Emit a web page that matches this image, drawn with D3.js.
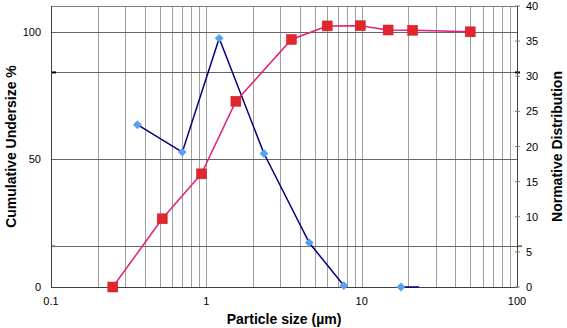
<!DOCTYPE html>
<html>
<head>
<meta charset="utf-8">
<script src="https://cdn.jsdelivr.net/npm/d3@7"></script>
<style>
  body { margin: 0; background: #fff; }
  svg { display: block; font-family: "Liberation Sans", Arial, sans-serif; }
</style>
</head>
<body>
<div id="chart"></div>
<script>
// cumulative undersize (left axis, %)
var cumSize = [0.25, 0.52, 0.93, 1.55, 3.53, 6.0, 9.8, 14.8, 21.3, 50];
var cumValue = [0, 26.7, 44.3, 72.7, 96.9, 102.2, 102.3, 100.6, 100.5, 99.9];

// normative distribution (right axis), null = gap in the line
var normSize = [0.36, 0.70, 1.21, 2.35, 4.6, 7.67, null, 17.9, 23.4];
var normValue = [23.1, 19.2, 35.4, 19.0, 6.3, 0.2, null, 0, 0];

var xTicks = [0.1, 1, 10, 100];
var leftTicks = [0, 50, 100];
var rightTicks = [0, 5, 10, 15, 20, 25, 30, 35, 40];
var extraGrid = [84, 16]; // odd extra horizontal lines (left-axis units)

var W = 567, H = 328;
var m = {left: 51, right: 50, top: 6, bottom: 41};
var iw = W - m.left - m.right, ih = H - m.top - m.bottom;

var svg = d3.select("#chart").append("svg").attr("width", W).attr("height", H);
var g = svg.append("g").attr("transform", "translate(" + m.left + "," + m.top + ")");

var x = d3.scaleLog().domain([0.1, 100]).range([0, iw]);
var yL = d3.scaleLinear().domain([0, 110]).range([ih, 0]);
var yR = d3.scaleLinear().domain([0, 40]).range([ih, 0]);

// vertical grid on every log step
var vgrid = [];
[0.1, 1, 10].forEach(function(d) {
    for (var k = 1; k < 10; k++) vgrid.push(d * k);
});
g.selectAll(".vg").data(vgrid.filter(function(d) { return d > 0.1; }))
    .enter().append("line")
    .attr("x1", function(d) { return Math.round(x(d)) + 0.5; })
    .attr("x2", function(d) { return Math.round(x(d)) + 0.5; })
    .attr("y1", 0).attr("y2", ih)
    .attr("stroke", "#a0a0a0").attr("stroke-width", 1);

// horizontal grid
g.selectAll(".hg").data(leftTicks.concat(extraGrid))
    .enter().append("line")
    .attr("x1", 0).attr("x2", iw)
    .attr("y1", function(d) { return Math.round(yL(d)) + 0.5; })
    .attr("y2", function(d) { return Math.round(yL(d)) + 0.5; })
    .attr("stroke", "#666").attr("stroke-width", 1);

// little marks at the extra lines
g.append("line").attr("x1", 0).attr("x2", 5)
    .attr("y1", yL(84)).attr("y2", yL(84)).attr("stroke", "#000").attr("stroke-width", 2);
g.append("line").attr("x1", iw - 2).attr("x2", iw + 3)
    .attr("y1", yL(84)).attr("y2", yL(84)).attr("stroke", "#000").attr("stroke-width", 2);
g.append("line").attr("x1", 0).attr("x2", 4)
    .attr("y1", yL(16)).attr("y2", yL(16)).attr("stroke", "#7a8a50").attr("stroke-width", 2);
g.append("line").attr("x1", iw).attr("x2", iw + 5)
    .attr("y1", yL(16)).attr("y2", yL(16)).attr("stroke", "#7a8a50").attr("stroke-width", 2);

// frame
g.append("rect").attr("x", 0.5).attr("y", 0.5).attr("width", iw).attr("height", ih)
    .attr("fill", "none").attr("stroke", "#808080");
g.append("line").attr("x1", 0).attr("x2", iw).attr("y1", ih + 0.5).attr("y2", ih + 0.5)
    .attr("stroke", "#404040");
g.append("line").attr("x1", 0.5).attr("x2", 0.5).attr("y1", 0).attr("y2", ih)
    .attr("stroke", "#404040");
g.append("line").attr("x1", iw + 0.5).attr("x2", iw + 0.5).attr("y1", 0).attr("y2", ih)
    .attr("stroke", "#404040");

// axes labels
g.selectAll(".xl").data(xTicks).enter().append("text")
    .attr("x", function(d) { return x(d); }).attr("y", ih + 18)
    .attr("text-anchor", "middle").attr("font-size", 11).attr("fill", "#000")
    .text(function(d) { return d; });

g.selectAll(".ll").data(leftTicks).enter().append("text")
    .attr("x", -10).attr("y", function(d) { return yL(d) + 4; })
    .attr("text-anchor", "end").attr("font-size", 11).attr("fill", "#000")
    .text(function(d) { return d; });

g.selectAll(".rt").data(rightTicks).enter().append("line")
    .attr("x1", iw - 2).attr("x2", iw + 3)
    .attr("y1", function(d) { return yR(d); }).attr("y2", function(d) { return yR(d); })
    .attr("stroke", "#808080");
g.selectAll(".rl").data(rightTicks).enter().append("text")
    .attr("x", iw + 9).attr("y", function(d) { return yR(d) + 4; })
    .attr("text-anchor", "start").attr("font-size", 11).attr("fill", "#000")
    .text(function(d) { return d; });

svg.append("text").attr("x", m.left + iw / 2).attr("y", 324)
    .attr("text-anchor", "middle").attr("font-size", 14).attr("font-weight", "bold")
    .text("Particle size (µm)");
svg.append("text").attr("transform", "translate(16," + (m.top + ih / 2) + ")rotate(-90)")
    .attr("text-anchor", "middle").attr("font-size", 14).attr("font-weight", "bold")
    .text("Cumulative Undersize %");
svg.append("text").attr("transform", "translate(562," + (m.top + ih / 2) + ")rotate(-90)")
    .attr("text-anchor", "middle").attr("font-size", 14).attr("font-weight", "bold")
    .text("Normative Distribution");

// normative distribution line
var norm = normSize.map(function(d, i) { return {s: d, v: normValue[i]}; });
var lineR = d3.line()
    .defined(function(d) { return d.s != null; })
    .x(function(d) { return x(d.s); })
    .y(function(d) { return yR(d.v); });
g.append("path").datum(norm).attr("d", lineR)
    .attr("fill", "none").attr("stroke", "#000080").attr("stroke-width", 1.5);
// last point has no marker in the original
g.selectAll(".dm").data(norm.filter(function(d, i) { return d.s != null && i < norm.length - 1; }))
    .enter().append("path")
    .attr("d", d3.symbol().type(d3.symbolDiamond2).size(50))
    .attr("transform", function(d) { return "translate(" + x(d.s) + "," + yR(d.v) + ")"; })
    .attr("fill", "#5aa0f0");

// cumulative line
var cum = cumSize.map(function(d, i) { return {s: d, v: cumValue[i]}; });
var lineL = d3.line()
    .x(function(d) { return x(d.s); })
    .y(function(d) { return yL(d.v); });
g.append("path").datum(cum).attr("d", lineL)
    .attr("fill", "none").attr("stroke", "#e0207a").attr("stroke-width", 1.5);
g.selectAll(".sq").data(cum).enter().append("rect")
    .attr("x", function(d) { return x(d.s) - 5; })
    .attr("y", function(d) { return yL(d.v) - 5; })
    .attr("width", 10).attr("height", 10)
    .attr("fill", "#e3262e").attr("stroke", "#c8202a").attr("stroke-width", 0.5);
</script>
</body>
</html>
